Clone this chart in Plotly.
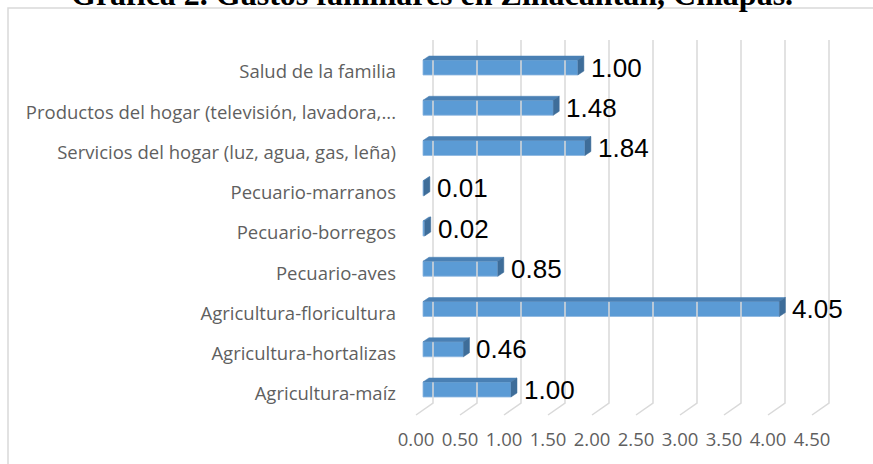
import plotly.graph_objects as go

# ---------------- data ----------------
categories = [
    "Agricultura-maíz",
    "Agricultura-hortalizas",
    "Agricultura-floricultura",
    "Pecuario-aves",
    "Pecuario-borregos",
    "Pecuario-marranos",
    "Servicios del hogar (luz, agua, gas, leña)",
    "Productos del hogar (televisión, lavadora,...",
    "Salud de la familia",
]
values = [1.00, 0.46, 4.05, 0.85, 0.02, 0.01, 1.84, 1.48, 1.76]
value_labels = ["1.00", "0.46", "4.05", "0.85", "0.02", "0.01", "1.84", "1.48", "1.00"]
tick_values = [0.0, 0.5, 1.0, 1.5, 2.0, 2.5, 3.0, 3.5, 4.0, 4.5]
tick_labels = ["0.00", "0.50", "1.00", "1.50", "2.00", "2.50", "3.00", "3.50", "4.00", "4.50"]
title_text = "Gráfica 2. Gastos familiares en Zinacantán, Chiapas."

# ---------------- geometry / style ----------------
W, H = 873, 464
L, R, T, B = 400, 850, 30, 420
X0PIX = 423          # pixel of value 0 (bar front face)
PX = 88.0            # pixels per unit (x)
Y0PIX = 389.5        # pixel of first category centre
PY = 40.25           # pixels per category
xr = [(L - X0PIX) / PX, (R - X0PIX) / PX]
yr = [(Y0PIX - B) / PY, (Y0PIX - T) / PY]

dx = 6 / PX          # 3D depth offset x
dy = 4 / PY          # 3D depth offset y
half = 7.5 / PY      # half bar height
gx = 10 / PX         # back wall offset
gf = -7 / PX         # front floor offset
ytop = (Y0PIX - 40) / PY
yback = (Y0PIX - 403) / PY
yfront = (Y0PIX - 415) / PY

FRONT = "#5b9bd5"
TOP = "#4a80b4"
SIDE = "#3e6d99"
GRID = "#d9d9d9"
LABEL_GRAY = "#5f5f5f"

idx = list(range(len(categories)))

fig = go.Figure()

# gridlines (back wall + floor diagonals)
gxs, gys = [], []
for t in tick_values:
    gxs += [t + gx, t + gx, t + gf, None]
    gys += [ytop, yback, yfront, None]
fig.add_trace(go.Scatter(x=gxs, y=gys, mode="lines",
                         line=dict(color=GRID, width=1.5),
                         hoverinfo="skip", showlegend=False))

# front faces
fig.add_trace(go.Bar(x=values, y=idx, orientation="h", width=2 * half,
                     marker=dict(color=FRONT, line=dict(color="#8db6df", width=0.8)),
                     hoverinfo="skip", showlegend=False))

# top faces
txs, tys = [], []
for i, v in zip(idx, values):
    txs += [0, v, v + dx, dx, 0, None]
    tys += [i + half, i + half, i + half + dy, i + half + dy, i + half, None]
fig.add_trace(go.Scatter(x=txs, y=tys, mode="lines", fill="toself",
                         fillcolor=TOP, line=dict(color=TOP, width=0.5),
                         hoverinfo="skip", showlegend=False))

# side faces
sxs, sys_ = [], []
for i, v in zip(idx, values):
    sxs += [v, v + dx, v + dx, v, v, None]
    sys_ += [i + half, i + half + dy, i - half + dy, i - half, i + half, None]
fig.add_trace(go.Scatter(x=sxs, y=sys_, mode="lines", fill="toself",
                         fillcolor=SIDE, line=dict(color=SIDE, width=0.5),
                         hoverinfo="skip", showlegend=False))

# value labels
for i, v, lab in zip(idx, values, value_labels):
    fig.add_annotation(x=v + dx, y=i, text=lab, showarrow=False,
                       xanchor="left", yanchor="middle", xshift=5,
                       font=dict(family="Liberation Sans, Arial", size=26, color="#000000"))

# title (clipped at the top as in the reference)
fig.add_annotation(xref="paper", yref="paper", x=(431.5 - L) / (R - L), y=1,
                   xanchor="center", yanchor="bottom", yshift=16,
                   text="<b>" + title_text + "</b>", showarrow=False,
                   font=dict(family="Liberation Serif, Times New Roman", size=32, color="#000000"))

# chart border
fig.add_shape(type="rect", xref="paper", yref="paper", layer="below",
              x0=(8 - L) / (R - L), x1=(880 - L) / (R - L),
              y0=(B - 470) / (B - T), y1=(B - 8) / (B - T),
              line=dict(color=GRID, width=1.5), fillcolor="rgba(0,0,0,0)")

fig.update_layout(
    width=W, height=H,
    margin=dict(l=L, r=W - R, t=T, b=H - B, pad=0),
    paper_bgcolor="white", plot_bgcolor="rgba(0,0,0,0)",
    bargap=0,
    xaxis=dict(range=xr, tickvals=tick_values, ticktext=tick_labels,
               showgrid=False, zeroline=False, showline=False, ticks="",
               ticklabelshift=-7, ticklabelstandoff=6,
               tickfont=dict(family="Open Sans", size=18.5, color=LABEL_GRAY),
               fixedrange=True),
    yaxis=dict(range=yr, tickvals=[i - 4.5 / PY for i in idx], ticktext=categories,
               showgrid=False, zeroline=False, showline=False, ticks="",
               ticklabelstandoff=3,
               tickfont=dict(family="Open Sans", size=18.5, color=LABEL_GRAY),
               fixedrange=True),
    showlegend=False,
)

fig.write_html("out.html",
               config={"displayModeBar": False, "staticPlot": True},
               post_script="document.body.style.margin='0';document.body.style.overflow='hidden';")
